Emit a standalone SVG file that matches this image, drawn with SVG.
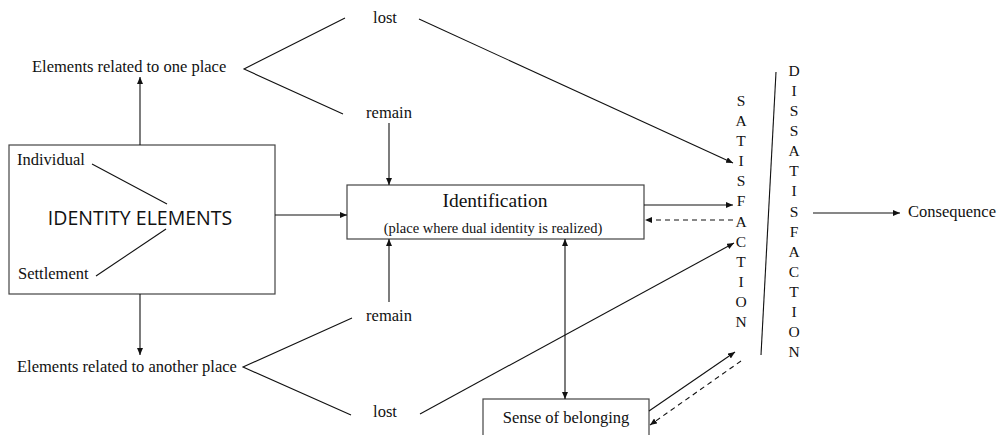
<svg xmlns="http://www.w3.org/2000/svg" width="1002" height="435" viewBox="0 0 1002 435">
<defs>
<marker id="ah" markerUnits="userSpaceOnUse" markerWidth="8" markerHeight="6" refX="7" refY="3" orient="auto-start-reverse">
<path d="M0,0 L7,3 L0,6 z" fill="#111" stroke="none"/>
</marker>
</defs>
<style>
.t{font-family:"Liberation Serif","Times New Roman",serif;font-size:16.5px;fill:#111}
.s{font-family:"Open Sans","Noto Sans",sans-serif;font-size:19.5px;fill:#111}
.l{stroke:#111;stroke-width:1.1;fill:none}
.a{stroke:#111;stroke-width:1.1;fill:none;marker-end:url(#ah)}
.d{stroke:#111;stroke-width:1.1;fill:none;stroke-dasharray:5,4;marker-end:url(#ah)}
.b{fill:#fff;stroke:#444;stroke-width:1.2}
.v{font-family:"Liberation Serif","Times New Roman",serif;font-size:15.5px;fill:#111;text-anchor:middle}
</style>
<rect width="1002" height="435" fill="#fff"/>
<g id="identity-elements">
<rect class="b" x="9" y="145" width="266" height="149"/>
<text class="t" x="17" y="165">Individual</text>
<text class="t" x="18" y="279">Settlement</text>
<line class="l" x1="92" y1="164" x2="167" y2="204"/>
<line class="l" x1="96" y1="276" x2="166" y2="229"/>
<text class="s" x="140" y="225" text-anchor="middle">IDENTITY ELEMENTS</text>
</g>
<g id="one-place"><text class="t" x="32" y="72">Elements related to one place</text></g>
<g id="another-place"><text class="t" x="17" y="372">Elements related to another place</text></g>
<g id="lost-top"><text class="t" x="385" y="23" text-anchor="middle">lost</text></g>
<g id="remain-top"><text class="t" x="389" y="118" text-anchor="middle">remain</text></g>
<g id="remain-bottom"><text class="t" x="389" y="321" text-anchor="middle">remain</text></g>
<g id="lost-bottom"><text class="t" x="385" y="417" text-anchor="middle">lost</text></g>
<g id="identification">
<rect class="b" x="347" y="185" width="297" height="54"/>
<text class="t" x="495" y="207" text-anchor="middle" style="font-size:19.5px">Identification</text>
<text class="t" x="493" y="233" text-anchor="middle" style="font-size:14.5px">(place where dual identity is realized)</text>
</g>
<g id="sense-of-belonging">
<rect class="b" x="483" y="399" width="166" height="45"/>
<text class="t" x="566" y="423" text-anchor="middle">Sense of belonging</text>
</g>
<g id="satisfaction">
<text class="v" x="741" y="106">S</text>
<text class="v" x="741" y="126">A</text>
<text class="v" x="741" y="146">T</text>
<text class="v" x="741" y="166">I</text>
<text class="v" x="741" y="186">S</text>
<text class="v" x="741" y="206">F</text>
<text class="v" x="741" y="227">A</text>
<text class="v" x="741" y="247">C</text>
<text class="v" x="741" y="267">T</text>
<text class="v" x="741" y="287">I</text>
<text class="v" x="741" y="307">O</text>
<text class="v" x="741" y="327">N</text>
</g>
<g id="dissatisfaction">
<text class="v" x="794" y="76">D</text>
<text class="v" x="794" y="96">I</text>
<text class="v" x="794" y="116">S</text>
<text class="v" x="794" y="136">S</text>
<text class="v" x="794" y="156">A</text>
<text class="v" x="794" y="176">T</text>
<text class="v" x="794" y="196">I</text>
<text class="v" x="794" y="217">S</text>
<text class="v" x="794" y="237">F</text>
<text class="v" x="794" y="257">A</text>
<text class="v" x="794" y="277">C</text>
<text class="v" x="794" y="297">T</text>
<text class="v" x="794" y="317">I</text>
<text class="v" x="794" y="337">O</text>
<text class="v" x="794" y="357">N</text>
</g>
<g id="consequence"><text class="t" x="908" y="217">Consequence</text></g>
<g id="connectors">
<line class="a" x1="140" y1="145" x2="140" y2="77"/>
<line class="a" x1="140" y1="294" x2="140" y2="355"/>
<line class="a" x1="275" y1="215" x2="347" y2="215"/>
<polyline class="l" points="345,18 244,69 343,114"/>
<polyline class="l" points="352,318 243,367 351,415"/>
<line class="a" x1="389" y1="123" x2="389" y2="185"/>
<line class="a" x1="389" y1="302" x2="389" y2="239"/>
<line class="a" x1="419" y1="19" x2="733" y2="163"/>
<line class="a" x1="420" y1="414" x2="734" y2="243"/>
<line class="a" x1="644" y1="205" x2="733" y2="205"/>
<line class="d" x1="733" y1="220" x2="645" y2="220"/>
<line class="a" x1="565" y1="239" x2="565" y2="399" style="marker-start:url(#ah)"/>
<line class="a" x1="649" y1="411" x2="735" y2="352"/>
<line class="d" x1="741" y1="361" x2="650" y2="425"/>
<line class="l" x1="776" y1="72" x2="761" y2="355"/>
<line class="a" x1="813" y1="213" x2="900" y2="213"/>
</g>
</svg>
